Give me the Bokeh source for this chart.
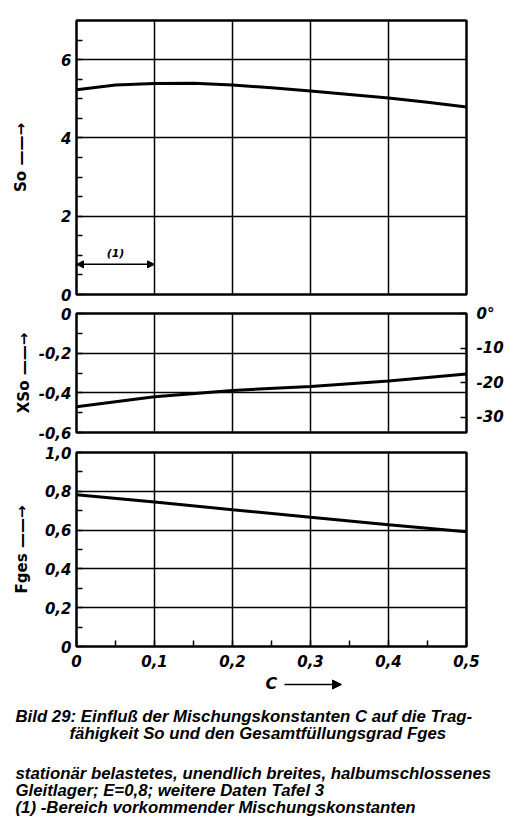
import math
from bokeh.plotting import figure
from bokeh.layouts import column
from bokeh.models import Range1d, LinearAxis, FixedTicker, Arrow, NormalHead
from bokeh.core.properties import value
from bokeh.embed import file_html
from bokeh.resources import INLINE

# ---------------- data ----------------
C_so = [0.0, 0.05, 0.1, 0.15, 0.2, 0.25, 0.3, 0.35, 0.4, 0.45, 0.5]
So = [5.23, 5.35, 5.39, 5.40, 5.35, 5.28, 5.20, 5.11, 5.02, 4.91, 4.79]

C_lin = [0.0, 0.1, 0.2, 0.3, 0.4, 0.5]
XSo = [-0.470, -0.420, -0.388, -0.368, -0.340, -0.305]
Fges = [0.782, 0.745, 0.705, 0.666, 0.628, 0.592]

c_ticks = [0.0, 0.1, 0.2, 0.3, 0.4, 0.5]
c_labels = ["0", "0,1", "0,2", "0,3", "0,4", "0,5"]
c_minor = [0.05, 0.15, 0.25, 0.35, 0.45]

so_ticks = [0, 2, 4, 6]
so_labels = ["0", "2", "4", "6"]
so_minor = [0.5, 1, 1.5, 2.5, 3, 3.5, 4.5, 5, 5.5, 6.5]

xso_ticks = [0.0, -0.2, -0.4, -0.6]
xso_labels = ["0", "-0,2", "-0,4", "-0,6"]
xso_minor = [-0.1, -0.3, -0.5]

deg_ticks = [0, -10, -20, -30]
deg_labels = ["0°", "-10", "-20", "-30"]

fges_ticks = [0.0, 0.2, 0.4, 0.6, 0.8, 1.0]
fges_labels = ["0", "0,2", "0,4", "0,6", "0,8", "1,0"]
fges_minor = [0.1, 0.3, 0.5, 0.7, 0.9]

range1_x = [0.0, 0.1]
range1_y = 0.77
range1_label = "(1)"

caption = [
    "Bild 29: Einfluß der Mischungskonstanten C auf die Trag-",
    "fähigkeit So und den Gesamtfüllungsgrad Fges",
    "stationär belastetes, unendlich breites, halbumschlossenes",
    "Gleitlager; E=0,8; weitere Daten Tafel 3",
    "(1) -Bereich vorkommender Mischungskonstanten",
]

# ---------------- style ----------------
W = 525
LEFT = 76
RIGHT = 59
TICK_FONT = "DejaVu Sans"
TICK_SIZE = "15px"


def base(height, top, bottom, y_range):
    p = figure(width=W, height=height, x_range=Range1d(0, 0.5), y_range=y_range,
               output_backend="svg", toolbar_location=None,
               min_border_left=LEFT, min_border_right=RIGHT,
               min_border_top=top, min_border_bottom=bottom)
    p.outline_line_color = "black"
    p.outline_line_width = 2.5
    p.background_fill_color = "white"
    p.border_fill_color = "white"
    p.xgrid.ticker = FixedTicker(ticks=c_ticks)
    p.xgrid.grid_line_color = "black"
    p.xgrid.grid_line_width = 1.5
    p.xgrid.grid_line_alpha = 1
    p.ygrid.grid_line_color = "black"
    p.ygrid.grid_line_width = 1.5
    p.ygrid.grid_line_alpha = 1
    return p


def style_axis(ax, ticks, labels, minor, label_text=None, label_standoff=5):
    ax.ticker = FixedTicker(ticks=ticks, minor_ticks=minor)
    ax.major_label_overrides = dict(zip(ticks, labels))
    ax.axis_line_color = None
    ax.major_tick_in = 6
    ax.major_tick_out = 0
    ax.major_tick_line_width = 1.5
    ax.minor_tick_in = 6
    ax.minor_tick_out = 0
    ax.minor_tick_line_width = 1.5
    ax.major_label_text_font = TICK_FONT
    ax.major_label_text_font_style = "bold italic"
    ax.major_label_text_font_size = TICK_SIZE
    ax.major_label_text_color = "black"
    ax.major_label_standoff = 5
    if label_text is not None:
        ax.axis_label = label_text
        ax.axis_label_text_font = TICK_FONT
        ax.axis_label_text_font_style = "bold"
        ax.axis_label_text_font_size = "15px"
        ax.axis_label_text_color = "black"
        ax.axis_label_standoff = label_standoff


# ---- top panel: So ----
p1 = base(304, 20, 10, Range1d(0, 7))
p1.xaxis.visible = False
p1.ygrid.ticker = FixedTicker(ticks=so_ticks)
style_axis(p1.yaxis[0], so_ticks, so_labels, so_minor, "So ——→", 28)
p1.line(C_so, So, line_color="black", line_width=3)
p1.add_layout(Arrow(start=NormalHead(size=7, fill_color="black", line_color="black"),
                    end=NormalHead(size=7, fill_color="black", line_color="black"),
                    x_start=range1_x[0], y_start=range1_y, x_end=range1_x[1], y_end=range1_y,
                    line_width=1.5, line_color="black"))
p1.text(x=[sum(range1_x) / 2], y=[range1_y + 0.1], text=[range1_label],
        text_font=value("DejaVu Sans"), text_font_style="bold italic",
        text_font_size="11px", text_align="center", text_baseline="bottom",
        text_color="black")

# ---- middle panel: XSo ----
deg_end = -0.6 * 180.0 / math.pi
p2 = base(138, 9, 10, Range1d(-0.6, 0))
p2.xaxis.visible = False
p2.ygrid.ticker = FixedTicker(ticks=xso_ticks)
style_axis(p2.yaxis[0], xso_ticks, xso_labels, xso_minor, "XSo ——→", 3)
p2.extra_y_ranges = {"deg": Range1d(deg_end, 0)}
rax = LinearAxis(y_range_name="deg")
style_axis(rax, deg_ticks, deg_labels, [])
rax.major_label_standoff = 10
p2.add_layout(rax, "right")
p2.line(C_lin, XSo, line_color="black", line_width=3)

# ---- bottom panel: Fges ----
p3 = base(230, 10, 26, Range1d(0, 1))
p3.ygrid.ticker = FixedTicker(ticks=fges_ticks)
style_axis(p3.yaxis[0], fges_ticks, fges_labels, fges_minor, "Fges ——→", 11)
style_axis(p3.xaxis[0], c_ticks, c_labels, c_minor)
p3.xaxis[0].major_label_standoff = 8
p3.line(C_lin, Fges, line_color="black", line_width=3)

# ---- caption panel (separate root, page-pixel coordinates) ----
H4 = 146
p4 = figure(width=W, height=H4, x_range=Range1d(0, W), y_range=Range1d(H4, 0),
            output_backend="svg", toolbar_location=None, min_border=0)
p4.axis.visible = False
p4.grid.visible = False
p4.outline_line_color = None
p4.background_fill_color = "white"
p4.border_fill_color = "white"

p4.text(x=[265], y=[11], text=["C"], text_font=value("DejaVu Sans"),
        text_font_style="bold italic", text_font_size="16px",
        text_baseline="middle", text_align="left", text_color="black")
p4.add_layout(Arrow(end=NormalHead(size=9, fill_color="black", line_color="black"),
                    x_start=284, y_start=12, x_end=341, y_end=12,
                    line_width=1.5, line_color="black"))

cap_x = [15, 69, 15, 15, 15]
cap_y = [44, 61, 101, 118, 135]
p4.text(x=cap_x, y=cap_y, text=caption, text_font=value("Liberation Sans"),
        text_font_style="bold italic", text_font_size="16.8px",
        text_baseline="alphabetic", text_align="left", text_color="black")

charts = column(p1, p2, p3, spacing=0)
open("out.html", "w").write(file_html([charts, p4], INLINE))
